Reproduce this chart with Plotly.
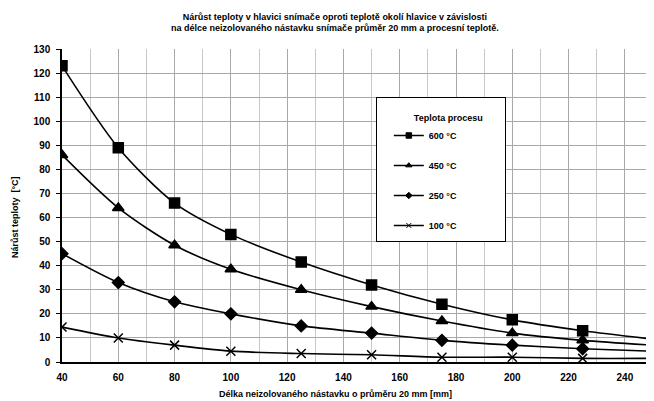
import plotly.graph_objects as go

delka = [40, 60, 80, 100, 125, 150, 175, 200, 225, 250]
t600 = [123, 89, 66, 53, 41.5, 32, 24, 17.5, 13, 9.5]
t450 = [86, 64, 48.5, 38.5, 30, 23, 17, 12, 9, 7]
t250 = [45, 33, 25, 20, 15, 12, 9, 7, 5.5, 4.5]
t100 = [14.5, 10, 7, 4.5, 3.5, 3, 2, 2, 1.5, 1.5]

series = [
    ("600 °C", t600, "square", 10),
    ("450 °C", t450, "triangle-up", 10),
    ("250 °C", t250, "diamond", 9),
    ("100 °C", t100, "x-thin-open", 9),
]

fig = go.Figure()
for name, vals, sym, size in series:
    fig.add_trace(go.Scatter(
        x=delka, y=vals, name=name, showlegend=False,
        mode="lines+markers", line=dict(color="black", width=1.6, shape="spline", smoothing=0.8),
        marker=dict(symbol=sym, size=size, color="black", line=dict(color="black", width=1.5)),
    ))
    # small legend entry like in the original
    fig.add_trace(go.Scatter(
        x=[None], y=[None], name="<b>" + name + "</b>", legendgroup=name,
        mode="lines+markers", line=dict(color="black", width=1.6),
        marker=dict(symbol=sym, size=size * 0.55, color="black", line=dict(color="black", width=1)),
    ))

font = "Arial, Liberation Sans, sans-serif"
nb = "&nbsp;"
# page body has an 8px margin, so the figure is a bit smaller than the window
fig.update_layout(
    width=646, height=393,
    margin=dict(l=54, r=1, t=41, b=39),
    paper_bgcolor="white", plot_bgcolor="white",
    font=dict(family=font, size=10, color="black"),
    title=dict(
        text="<b>Nárůst teploty v hlavici snímače oproti teplotě okolí hlavice v závislosti<br>"
             "na délce neizolovaného nástavku snímače průměr 20 mm a procesní teplotě.</b>",
        x=0.506, xanchor="center", y=0.97, yanchor="top", font=dict(size=9),
    ),
    legend=dict(
        title=dict(text=" <br>" + nb * 14 + "<b>Teplota procesu</b>" + nb * 8,
                   font=dict(size=9), side="top"),
        x=0.531, y=0.848, xanchor="left", yanchor="top",
        bgcolor="white", bordercolor="black", borderwidth=1,
        font=dict(size=9), tracegroupgap=11, itemwidth=30, indentation=12,
    ),
    annotations=[
        dict(text="<b>Nárůst teploty  [°C]</b>", xref="paper", yref="paper", x=-0.0795, y=0.463,
             textangle=-90, showarrow=False, font=dict(size=9), xanchor="center", yanchor="middle"),
        dict(text="<b>Délka neizolovaného nástavku o průměru 20 mm [mm]</b>", xref="paper", yref="paper",
             x=0.462, y=-0.102, showarrow=False, font=dict(size=9), xanchor="center", yanchor="middle"),
    ],
)
fig.update_xaxes(
    range=[40, 250], dtick=20, tick0=40,
    showline=True, linecolor="black", linewidth=1.5,
    showgrid=True, gridcolor="#a8a8a8", gridwidth=1,
    minor=dict(dtick=10, showgrid=True, gridcolor="#c8c8c8"),
    ticks="outside", ticklen=5, tickcolor="rgba(0,0,0,0)",
    tickfont=dict(size=10, family=font), tickprefix="<b>", ticksuffix="</b>",
    zeroline=False, automargin=False,
)
fig.update_yaxes(
    range=[0, 130], dtick=10,
    showline=True, linecolor="black", linewidth=1.5,
    showgrid=True, gridcolor="#a8a8a8", gridwidth=1,
    ticks="outside", ticklen=4, tickcolor="black", ticklabelstandoff=4,
    tickfont=dict(size=10, family=font), tickprefix="<b>", ticksuffix="</b>",
    zeroline=False, automargin=False,
)

fig.write_html("out.html")
